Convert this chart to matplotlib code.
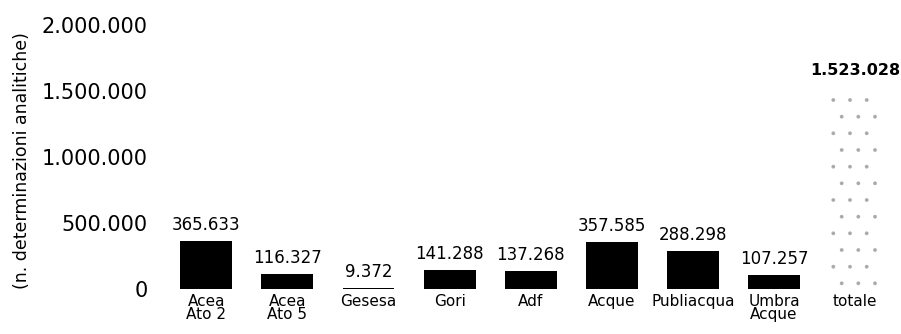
import matplotlib
matplotlib.use("Agg")
import matplotlib.pyplot as plt
from matplotlib.ticker import FuncFormatter

categories = ["Acea\nAto 2", "Acea\nAto 5", "Gesesa", "Gori", "Adf", "Acque",
              "Publiacqua", "Umbra\nAcque", "totale"]
values = [365633, 116327, 9372, 141288, 137268, 357585, 288298, 107257, 1523028]
yticks = [0, 500000, 1000000, 1500000, 2000000]

def fmt(v):
    return f"{int(v):,}".replace(",", ".")

plt.rcParams['font.family'] = ['DejaVu Sans']
plt.rcParams['hatch.color'] = "#a8a8a8"
plt.rcParams['hatch.linewidth'] = 0.25
fig = plt.figure(figsize=(9.01, 3.34), dpi=100)
ax = fig.add_axes([0.184, 0.135, 0.81, 0.79])

x = list(range(len(categories)))
ax.bar(x[:-1], values[:-1], width=0.64, color="black")
ax.bar(x[-1:], values[-1:], width=0.64, facecolor="none",
       edgecolor="#a8a8a8", linewidth=0, hatch=".")

for i, v in enumerate(values):
    last = i == len(values) - 1
    ax.annotate(fmt(v), (i, v), xytext=(0, 7 if last else 5),
                textcoords="offset points", ha="center", va="bottom",
                fontsize=11.5 if last else 12,
                fontweight="bold" if last else "normal")

ax.set_xlim(-0.5, len(categories) - 0.5)
ax.set_ylim(0, 2000000)
ax.set_yticks(yticks)
ax.yaxis.set_major_formatter(FuncFormatter(lambda v, p: fmt(v)))
ax.set_xticks(x)
ax.set_xticklabels(categories, fontsize=11, linespacing=0.8)
ax.tick_params(axis="y", labelsize=15, length=0, pad=13)
ax.tick_params(axis="x", length=0, pad=4)
for s in ax.spines.values():
    s.set_visible(False)
fig.text(0.024, 0.52, "(n. determinazioni analitiche)", rotation=90,
         ha="center", va="center", fontsize=12.5)

fig.savefig("out.png", dpi=100)
